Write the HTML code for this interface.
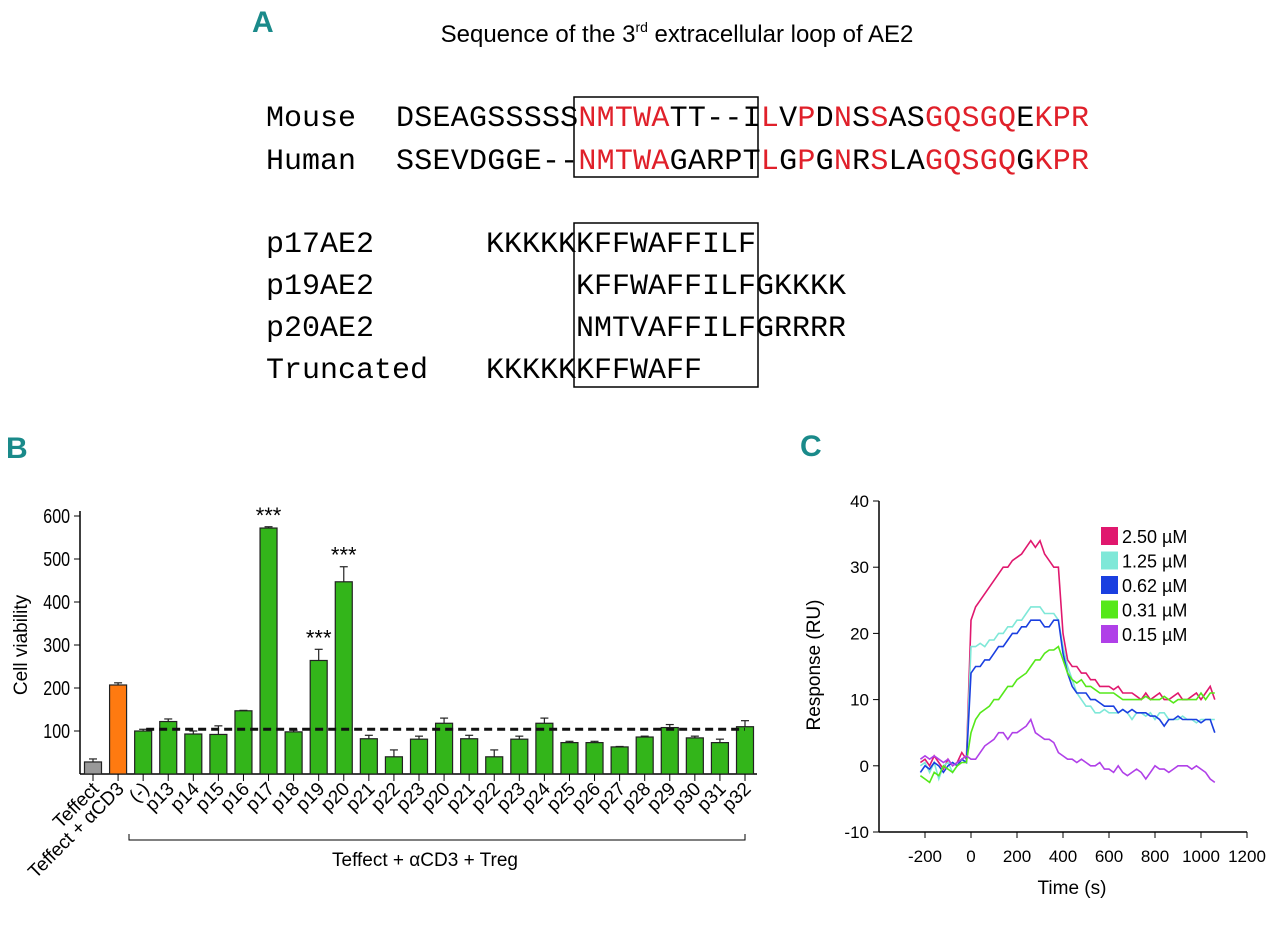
<!DOCTYPE html>
<html><head><meta charset="utf-8"><style>
body{margin:0;background:#fff;width:1280px;height:930px;overflow:hidden}
svg{display:block}
.mono{font-family:"Liberation Mono",monospace;font-size:30px}
.sans{font-family:"Liberation Sans",sans-serif}
.r{fill:#e0202a}
.lab{font-family:"Liberation Sans",sans-serif;font-weight:bold;fill:#1a8a8a;font-size:30px}
</style></head><body>
<svg id="fig" width="1280" height="930">
<text class="lab" x="252" y="32">A</text>
<text class="sans" x="677" y="42" font-size="24" text-anchor="middle">Sequence of the 3<tspan font-size="14" dy="-10">rd</tspan><tspan dy="10"> extracellular loop of AE2</tspan></text>
<g class="mono">
<text x="266" y="126">Mouse</text>
<text x="396" y="126" textLength="693">DSEAGSSSSS<tspan class="r">NMTWA</tspan>TT--I<tspan class="r">L</tspan>V<tspan class="r">P</tspan>D<tspan class="r">N</tspan>S<tspan class="r">S</tspan>AS<tspan class="r">GQSGQ</tspan>E<tspan class="r">KPR</tspan></text>
<text x="266" y="169">Human</text>
<text x="396" y="169" textLength="693">SSEVDGGE--<tspan class="r">NMTWA</tspan>GARPT<tspan class="r">L</tspan>G<tspan class="r">P</tspan>G<tspan class="r">N</tspan>R<tspan class="r">S</tspan>LA<tspan class="r">GQSGQ</tspan>G<tspan class="r">KPR</tspan></text>
<rect x="574" y="97" width="184" height="80" fill="none" stroke="#000" stroke-width="1.5"/>
<text x="266" y="252">p17AE2</text>
<text x="486" y="252">KKKKKKFFWAFFILF</text>
<text x="266" y="294">p19AE2</text>
<text x="576" y="294">KFFWAFFILFGKKKK</text>
<text x="266" y="336">p20AE2</text>
<text x="576" y="336">NMTVAFFILFGRRRR</text>
<text x="266" y="378">Truncated</text>
<text x="486" y="378">KKKKKKFFWAFF</text>
<rect x="574" y="223" width="184" height="164" fill="none" stroke="#000" stroke-width="1.5"/>
</g>
<text class="lab" x="6" y="458">B</text>
<text class="lab" x="800" y="456">C</text>
<g id="b"></g>
<g id="c"></g>
</svg>
<script>
const NS='http://www.w3.org/2000/svg';
function mk(p,t,a,txt){const e=document.createElementNS(NS,t);for(const k in a)e.setAttribute(k,a[k]);if(txt!==undefined)e.textContent=txt;p.appendChild(e);return e;}
// ---- Panel B data
const barCats=['Teffect','Teffect + \u03b1CD3','(-)','p13','p14','p15','p16','p17','p18','p19','p20','p21','p22','p23','p20','p21','p22','p23','p24','p25','p26','p27','p28','p29','p30','p31','p32'];
const barVals=[28,207,100,122,93,92,147,572,98,264,447,82,40,81,118,82,40,81,118,73,73,63,86,108,84,73,110];
const barErr=[7,5,4,6,7,20,1,3,4,26,35,8,16,7,12,8,16,7,12,3,3,1,2,7,4,8,14];
const barTicks=[100,200,300,400,500,600];
const starIdx=[7,9,10];
const refLine=104;
const B=document.getElementById('b');
const by=v=>774-v*(774-516)/600;
const bx=i=>93+i*(745-93)/(barCats.length-1);
mk(B,'line',{x1:80,y1:511,x2:80,y2:774,stroke:'#000','stroke-width':1.5});
mk(B,'line',{x1:80,y1:774,x2:757,y2:774,stroke:'#000','stroke-width':1.5});
barTicks.forEach(t=>{mk(B,'line',{x1:74,y1:by(t),x2:80,y2:by(t),stroke:'#000'});
const e=mk(B,'text',{x:70,y:by(t)+7,'text-anchor':'end','font-family':'Liberation Sans,sans-serif','font-size':20,transform:`translate(${70*0.2},0) scale(0.8,1)`},t);
});
barVals.forEach((v,i)=>{const x=bx(i);const col=i==0?'#999':i==1?'#ff7a10':'#33b51a';
const r=mk(B,'rect',{x:x-8.5,y:by(v),width:17,height:774-by(v),fill:col,stroke:'#222','stroke-width':1.2});

mk(B,'line',{x1:x,y1:by(v),x2:x,y2:by(v+barErr[i]),stroke:'#222','stroke-width':1.2});
mk(B,'line',{x1:x-4,y1:by(v+barErr[i]),x2:x+4,y2:by(v+barErr[i]),stroke:'#222','stroke-width':1.2});
mk(B,'line',{x1:x,y1:774,x2:x,y2:781,stroke:'#000'});
const t=mk(B,'text',{x:x+7,y:790,'text-anchor':'end','font-family':'Liberation Sans,sans-serif','font-size':19,transform:`rotate(-45 ${x+7} 790)`},barCats[i]);
});
starIdx.forEach(i=>{const v=barVals[i]+barErr[i];const s=mk(B,'text',{x:bx(i),y:by(v)-4,'text-anchor':'middle','font-family':'Liberation Sans,sans-serif','font-size':22},'***');
});
const dl=mk(B,'line',{x1:bx(2)+3,y1:by(refLine),x2:bx(26),y2:by(refLine),stroke:'#111','stroke-width':3,'stroke-dasharray':'8,5'});

mk(B,'path',{d:`M129 834 V840 H745 V834`,fill:'none',stroke:'#000'});
let t1=mk(B,'text',{x:425,y:866,'text-anchor':'middle','font-family':'Liberation Sans,sans-serif','font-size':19},'Teffect + \u03b1CD3 + Treg');

let t2=mk(B,'text',{x:0,y:0,'text-anchor':'middle','font-family':'Liberation Sans,sans-serif','font-size':19,transform:'translate(27 645) rotate(-90)'},'Cell viability');

// ---- Panel C data
const times=[-220,-200,-180,-160,-140,-120,-100,-80,-60,-40,-20,0,20,40,60,80,100,120,140,160,180,200,220,240,260,280,300,320,340,360,380,400,420,440,460,480,500,520,540,560,580,600,620,640,660,680,700,720,740,760,780,800,820,840,860,880,900,920,940,960,980,1000,1020,1040,1060];
const s250=[0.5,1,0,1.5,0.5,-0.5,1,0,0.5,2,1,22,24,25,26,27,28,29,30,30,31,31.5,32,33,34,33,34,32,31,30,30,20,16,15,15,14,14,13,13,12,12,12,11.5,12,11,11,11,10.5,10,11,10,10.5,11,10,10,10.5,11,10,10,10.5,11,10,11,12,10];
const s125=[0,0.5,-1,0.5,-2,0,0.5,-1,0,1,0.5,18,18,18.5,18,19,19,20,20,21,21,22,22,23,24,24,24,23,23,23,22,18,15,13,11,10,9,9,8,8,8.5,8,8,8,8.5,8,7,8,8,7.5,8,7,8,8,7,7,7,7.5,7,7,6.5,7,7,7,7];
const s062=[-1,0,-0.5,0.5,0,-1,0,0.5,0,1,0.5,14,15,15,16,16,17,18,18,19,20,20,21,21,22,22,22,21,21,22,22,17,14,12,11,11,11,10,10,9.5,9,9,9,8,8.5,8,8.5,8,8,8,7.5,7.5,7,6,7,7,7.5,7,7,7,7,6.5,7,7,5];
const s031=[-1.5,-2,-2.5,-1,-1.5,0,-0.5,-1,0,0.5,0.5,5,7,8,8.5,9,10,10,11,12,12,13,13.5,14,15,16,16,17,17.5,17.5,18,16,14,13,12.5,13,12,12,11.5,11,11,11,11,10.5,10,10,10,10,10,10.5,10,10,10,10.5,10,9.5,10,10,10,10,10,11,10,11,11];
const s015=[1,1.5,1,1.5,1,0.5,1,0,0.5,1,1.5,1,1,2,3,3.5,4,5,5,4,5,5,5.5,6,7,5,4.5,4,4,3.5,2,1.5,1,1,0.5,1,0.5,0,0,0.5,-0.5,-0.5,-1,0,-1,-1.5,-1,-0.5,-1,-2,-1,0,-0.5,-0.5,-1,-0.5,0,0,0,-0.5,0,-0.5,-1,-2,-2.5];
const seriesNames=['2.50 \u00b5M','1.25 \u00b5M','0.62 \u00b5M','0.31 \u00b5M','0.15 \u00b5M'];
const seriesColors=['#e0186e','#7fe8d8','#1a3fe0','#55e81a','#b040e8'];
const xTicks=[-200,0,200,400,600,800,1000,1200];
const yTicks=[-10,0,10,20,30,40];
const C=document.getElementById('c');
const cx=t=>971+t*46/200, cy=v=>832-(v+10)*(832-501)/50;
mk(C,'line',{x1:879,y1:501,x2:879,y2:832,stroke:'#000','stroke-width':1.5});
mk(C,'line',{x1:879,y1:832,x2:1247,y2:832,stroke:'#000','stroke-width':1.5});
yTicks.forEach(t=>{mk(C,'line',{x1:873,y1:cy(t),x2:879,y2:cy(t),stroke:'#000'});
const e=mk(C,'text',{x:869,y:cy(t)+6,'text-anchor':'end','font-family':'Liberation Sans,sans-serif','font-size':17},t);
});
xTicks.forEach(t=>{mk(C,'line',{x1:cx(t),y1:832,x2:cx(t),y2:838,stroke:'#000'});
const e=mk(C,'text',{x:cx(t),y:862,'text-anchor':'middle','font-family':'Liberation Sans,sans-serif','font-size':17},t);
});
[s250,s125,s062,s031,s015].forEach((s,k)=>{const d=s.map((v,i)=>(i?'L':'M')+cx(times[i]).toFixed(1)+' '+cy(v).toFixed(1)).join(' ');
const p=mk(C,'path',{d:d,fill:'none',stroke:seriesColors[k],'stroke-width':1.6});

const yy=536+k*24.5;
const r=mk(C,'rect',{x:1101,y:yy-9,width:17,height:18,fill:seriesColors[k]});

const t=mk(C,'text',{x:1122,y:yy+7,'font-family':'Liberation Sans,sans-serif','font-size':18},seriesNames[k]);
});
let t3=mk(C,'text',{x:1072,y:894,'text-anchor':'middle','font-family':'Liberation Sans,sans-serif','font-size':19},'Time (s)');

let t4=mk(C,'text',{x:0,y:0,'text-anchor':'middle','font-family':'Liberation Sans,sans-serif','font-size':19,transform:'translate(820 665) rotate(-90)'},'Response (RU)');

</script>
</body></html>
